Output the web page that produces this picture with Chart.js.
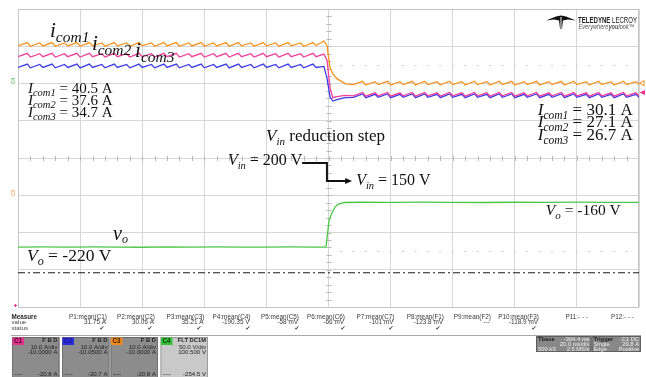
<!DOCTYPE html>
<html>
<head>
<meta charset="utf-8">
<script src="https://cdn.jsdelivr.net/npm/chart.js@4/dist/chart.umd.min.js"></script>
<style>
  html, body { margin: 0; padding: 0; background: #ffffff; }
  canvas { display: block; }
</style>
</head>
<body>
<canvas id="scope" width="646" height="377" style="width:646px;height:377px"></canvas>
<script>
// Acquisition: 20 ms/div, 10 divisions. Sample times in ms.
const timeMs = [
  0,3,4,7,8,11,12,15,16,19,20,23,24,27,28,31,32,35,36,39,
  40,43,44,47,48,51,52,55,56,59,60,63,64,67,68,71,72,75,76,79,
  80,83,84,87,88,91,92,95,96,98.5,
  99.5,100.5,101.4,102.7,104.3,105.5,
  108,111,112,115,116,119,120,123,124,127,128,131,132,135,136,139,140,143,144,147,
  148,151,152,155,156,159,160,163,164,167,168,171,172,175,176,179,180,183,184,187,
  188,191,192,195,196,199,200
];

// Converter currents (A)
const iCom1 = [
  40.1,41.0,40.0,40.9,40.1,41.0,40.0,40.9,40.1,41.0,
  40.0,41.0,40.1,40.9,40.0,41.0,40.1,40.9,40.0,41.0,
  40.1,40.9,40.0,41.0,40.1,41.0,40.0,40.9,40.1,41.0,
  40.0,40.9,40.1,41.0,40.0,41.0,40.1,40.9,40.0,41.0,
  40.1,40.9,40.0,41.0,40.1,40.9,40.0,41.0,40.2,41.4,
  40.3,34.2,32.6,31.3,30.5,29.9,
  29.7,30.6,29.6,30.5,29.7,30.6,29.6,30.5,29.7,30.6,
  29.6,30.6,29.7,30.5,29.6,30.6,29.7,30.5,29.6,30.6,
  29.7,30.5,29.6,30.6,29.7,30.6,29.6,30.5,29.7,30.6,
  29.6,30.5,29.7,30.6,29.6,30.6,29.7,30.5,29.6,30.6,
  29.7,30.5,29.6,30.6,29.7,30.5,29.7
];
const iCom2 = [
  37.2,38.1,37.1,38.0,37.2,38.1,37.1,38.0,37.2,38.1,
  37.1,38.1,37.2,38.0,37.1,38.1,37.2,38.0,37.1,38.1,
  37.2,38.0,37.1,38.1,37.2,38.1,37.1,38.0,37.2,38.1,
  37.1,38.0,37.2,38.1,37.1,38.1,37.2,38.0,37.1,38.1,
  37.2,38.0,37.1,38.1,37.2,38.0,37.1,38.1,37.2,37.9,
  36.3,28.8,26.2,26.5,26.7,26.8,
  26.7,27.6,26.6,27.5,26.7,27.6,26.6,27.5,26.7,27.6,
  26.6,27.6,26.7,27.5,26.6,27.6,26.7,27.5,26.6,27.6,
  26.7,27.5,26.6,27.6,26.7,27.6,26.6,27.5,26.7,27.6,
  26.6,27.5,26.7,27.6,26.6,27.6,26.7,27.5,26.6,27.6,
  26.7,27.5,26.6,27.6,26.7,27.5,26.7
];
const iCom3 = [
  34.3,35.2,34.2,35.1,34.3,35.2,34.2,35.1,34.3,35.2,
  34.2,35.2,34.3,35.1,34.2,35.2,34.3,35.1,34.2,35.2,
  34.3,35.1,34.2,35.2,34.3,35.2,34.2,35.1,34.3,35.2,
  34.2,35.1,34.3,35.2,34.2,35.2,34.3,35.1,34.2,35.2,
  34.3,35.1,34.2,35.2,34.3,35.1,34.2,35.2,34.3,34.6,
  31.5,26.4,25.3,25.7,26.0,26.2,
  26.3,27.2,26.2,27.1,26.3,27.2,26.2,27.1,26.3,27.2,
  26.2,27.2,26.3,27.1,26.2,27.2,26.3,27.1,26.2,27.2,
  26.3,27.1,26.2,27.2,26.3,27.2,26.2,27.1,26.3,27.2,
  26.2,27.1,26.3,27.2,26.2,27.2,26.3,27.1,26.2,27.2,
  26.3,27.1,26.2,27.2,26.3,27.1,26.3
];

// Output voltage (V)
const voTime = [0,8,16,24,32,40,48,56,64,72,80,88,96,
                99.2,100.2,101.1,102.1,103.1,105.3,
                110,120,130,140,150,160,170,180,190,200];
const vo = [-220.1,-219.8,-220.2,-219.9,-220.0,-220.3,-219.8,-220.1,-219.9,-220.2,-220.0,-219.8,-220.1,
            -220.0,-183.7,-174.3,-166.3,-162.3,-160.2,
            -159.9,-160.1,-159.8,-160.0,-160.2,-159.9,-160.1,-159.8,-160.0,-160.1];
const refLevelV = -254.5;

// Channel set-up (current channels share one axis: 10 A/div, offset -10 A; C4: 50 V/div, offset 100.5 V)
const currentAxis = { min: -30, max: 50, step: 10 };
const voltageAxis = { min: -300.5, max: 99.5 };

// Measurement readouts
const measureNames  = ['P1:mean(C1)','P2:mean(C2)','P3:mean(C3)','P4:mean(C4)','P5:mean(C5)','P6:mean(C6)',
                       'P7:mean(C7)','P8:mean(F1)','P9:mean(F2)','P10:mean(F3)','P11:- - -','P12:- - -'];
const measureValues = ['31.75 A','30.06 A','35.21 A','-190.35 V','-58 mV','-66 mV',
                       '-101 mV','-123.8 mV','---','-118.9 mV','',''];
const measureOk     = [1,1,1,1,1,1,1,1,0,1,0,0];

const chTags     = ['C1','C2','C3','C4'];
const chCoupling = ['F B D','F B D','F B D','FLT DC1M'];
const chScale    = ['10.0 A/div','10.0 A/div','10.0 A/div','50.0 V/div'];
const chOffset   = ['-10.0000 A','-10.0500 A','-10.0000 A','100.500 V'];
const chReading  = ['-20.8 A','-20.7 A','-20.8 A','-254.5 V'];

const tbaseRows   = [['Tbase','-304.4 ms'],['','20.0 ms/div'],['500 kS','2.5 MS/s']];
const triggerRows = [['Trigger','C1 DC'],['Single','29.8 A'],['Edge','Positive']];

const pts = (xs, ys) => xs.map((x, i) => ({ x: x, y: ys[i] }));

// Text placed on the graticule: anchor = [time ms, divisions from centre]
const plotNotes = [
  { at: [10.3, 3.25],  parts: [['i',21,1,0],['com1',15.5,1,5]] },
  { at: [23.8, 2.90],  parts: [['i',21,1,0],['com2',15.5,1,5]] },
  { at: [37.7, 2.71],  parts: [['i',21,1,0],['com3',15.5,1,5]] },
  { at: [3.2, 1.732],  parts: [['I',15,1,0],['com1',10.5,1,3],[' = 40.5 A',15,0,0]] },
  { at: [3.2, 1.423],  parts: [['I',15,1,0],['com2',10.5,1,3],[' = 37.6 A',15,0,0]] },
  { at: [3.2, 1.114],  parts: [['I',15,1,0],['com3',10.5,1,3],[' = 34.7 A',15,0,0]] },
  { at: [167.4, 1.154],parts: [['I',17,1,0],['com1',11.5,1,3.5],[' = 30.1 A',17,0,0]] },
  { at: [167.4, 0.819],parts: [['I',17,1,0],['com2',11.5,1,3.5],[' = 27.1 A',17,0,0]] },
  { at: [167.4, 0.483],parts: [['I',17,1,0],['com3',11.5,1,3.5],[' = 26.7 A',17,0,0]] },
  { at: [79.9, 0.456], parts: [['V',17,1,0],['in',11,1,4],[' reduction step',17,0,0]] },
  { at: [67.6, -0.188],parts: [['V',16,1,0],['in',10.5,1,4],[' = 200 V',16,0,0]] },
  { at: [108.9,-0.725],parts: [['V',16,1,0],['in',10.5,1,4],[' = 150 V',16,0,0]] },
  { at: [30.6, -2.20], parts: [['v',20,1,0],['o',12,1,3.5]] },
  { at: [2.9, -2.765], parts: [['V',17.5,1,0],['o',12,1,4],[' = -220 V',17.5,0,0]] },
  { at: [170.0,-1.53], parts: [['V',15.5,1,0],['o',11,1,4],[' = -160 V',15.5,0,0]] }
];
const vinArrow = [[91.5,-0.134],[99.5,-0.134],[99.5,-0.617],[107.6,-0.617]];

function drawRich(ctx, x, y, parts) {
  let cx = x;
  for (const [s, size, italic, dy] of parts) {
    ctx.font = (italic ? 'italic ' : '') + size + 'px "Liberation Serif", "Times New Roman", serif';
    ctx.fillText(s, cx, y + dy);
    cx += ctx.measureText(s).width;
  }
}

function fitParts(ctx, x, y, width, parts) {
  let total = 0;
  for (const [s, font] of parts) { ctx.font = font; total += ctx.measureText(s).width; }
  ctx.save();
  ctx.translate(x, y);
  ctx.scale(width / total, 1);
  let cx = 0;
  for (const [s, font] of parts) { ctx.font = font; ctx.fillText(s, cx, 0); cx += ctx.measureText(s).width; }
  ctx.restore();
}

const scopeDecor = {
  id: 'scopeDecor',
  beforeDatasetsDraw(chart) {
    const { ctx, chartArea: a, scales } = chart;
    const cx = scales.x.getPixelForValue(100);
    const cy = scales.yI.getPixelForValue(10);
    const dx = (a.right - a.left) / 50;
    const dy = (a.bottom - a.top) / 40;
    ctx.save();
    ctx.strokeStyle = '#b9b9b9';
    ctx.lineWidth = 1;
    ctx.beginPath();
    for (let k = 1; k < 50; k++) {
      const x = Math.round(a.left + k * dx) + 0.5;
      ctx.moveTo(x, cy - 2); ctx.lineTo(x, cy + 3);
    }
    for (let k = 1; k < 40; k++) {
      const y = Math.round(a.top + k * dy) + 0.5;
      ctx.moveTo(cx - 2, y); ctx.lineTo(cx + 3, y);
    }
    ctx.stroke();
    // faint dotted rows at +/-2.5 div on the right half
    ctx.strokeStyle = '#cfcfcf';
    ctx.beginPath();
    for (const d of [2.5, -2.5]) {
      const y = Math.round(scales.yI.getPixelForValue(d * 10 + 10)) + 0.5;
      for (let k = 26; k < 50; k++) {
        const x = a.left + k * dx;
        ctx.moveTo(x - 1, y); ctx.lineTo(x + 1, y);
      }
    }
    ctx.stroke();
    ctx.strokeStyle = '#c4c4c4';
    ctx.strokeRect(a.left + 0.5, a.top + 0.5, a.right - a.left - 1, a.bottom - a.top);
    ctx.restore();
  },
  afterDraw(chart) {
    const { ctx, chartArea: a, scales } = chart;
    const X = ms => scales.x.getPixelForValue(ms);
    const Y = div => scales.yI.getPixelForValue(div * 10 + 10);
    ctx.save();

    // annotations
    ctx.fillStyle = '#111';
    ctx.textBaseline = 'alphabetic';
    ctx.textAlign = 'left';
    for (const n of plotNotes) drawRich(ctx, X(n.at[0]), Y(n.at[1]), n.parts);

    // Vin step arrow
    ctx.strokeStyle = '#111';
    ctx.lineWidth = 2;
    ctx.beginPath();
    vinArrow.forEach(([ms, d], i) => {
      const px = X(ms), py = Y(d);
      const ex = i === vinArrow.length - 1 ? px - 6 : px;
      if (i === 0) ctx.moveTo(px, py); else ctx.lineTo(ex, py);
    });
    ctx.stroke();
    const [tms, td] = vinArrow[vinArrow.length - 1];
    const tx = X(tms), ty = Y(td);
    ctx.beginPath();
    ctx.moveTo(tx, ty); ctx.lineTo(tx - 7, ty - 3); ctx.lineTo(tx - 7, ty + 3); ctx.closePath();
    ctx.fill();

    // brand mark
    ctx.fillStyle = '#111';
    ctx.beginPath();
    ctx.moveTo(546, 20.5); ctx.lineTo(556, 16.5); ctx.lineTo(561, 15.5); ctx.lineTo(566, 16.5);
    ctx.lineTo(576, 20.5); ctx.lineTo(568, 19.5); ctx.lineTo(563, 20.5); ctx.lineTo(562, 28.5);
    ctx.lineTo(560, 28.5); ctx.lineTo(559, 20.5); ctx.lineTo(554, 19.5); ctx.closePath();
    ctx.fill();
    ctx.fillStyle = '#fff';
    ctx.fillRect(560.5, 17, 1, 11);
    ctx.fillStyle = '#222';
    fitParts(ctx, 578, 23.3, 59, [['TELEDYNE', 'bold 9px "Liberation Sans", Arial, sans-serif'],
                                  [' LECROY', '9px "Liberation Sans", Arial, sans-serif']]);
    ctx.fillStyle = '#555';
    fitParts(ctx, 578.5, 29, 56, [['Everywhere', 'italic 6.5px "Liberation Sans", Arial, sans-serif'],
                                  ['you', 'italic bold 6.5px "Liberation Sans", Arial, sans-serif'],
                                  ['look\u2122', 'italic 6.5px "Liberation Sans", Arial, sans-serif']]);

    // channel ground markers (left) and level markers (right)
    ctx.font = '5px "Liberation Sans", Arial, sans-serif';
    ctx.textAlign = 'center';
    ctx.textBaseline = 'middle';
    const gV = scales.yV.getPixelForValue(0);
    const gI = scales.yI.getPixelForValue(0);
    ctx.save(); ctx.translate(13.5, gV - 2); ctx.rotate(-Math.PI / 2);
    ctx.fillStyle = '#3cb43c'; ctx.fillText('C4', 0, 0); ctx.restore();
    ctx.save(); ctx.translate(13.5, gI - 2); ctx.rotate(-Math.PI / 2);
    ctx.fillStyle = '#f08a1e'; ctx.fillText('C3', 0, 0); ctx.restore();

    const yo = scales.yI.getPixelForValue(30.1);
    ctx.strokeStyle = '#f08a1e'; ctx.lineWidth = 1;
    ctx.beginPath(); ctx.moveTo(639.5, yo); ctx.lineTo(644, yo - 2.5); ctx.lineTo(644, yo + 2.5); ctx.closePath(); ctx.stroke();
    const yp = scales.yI.getPixelForValue(27.6);
    ctx.fillStyle = '#e8308f';
    ctx.beginPath(); ctx.moveTo(639.5, yp); ctx.lineTo(645, yp - 2.5); ctx.lineTo(645, yp + 2.5); ctx.closePath(); ctx.fill();
    ctx.fillRect(14, a.bottom - 2, 3, 1); ctx.fillRect(15, a.bottom - 3, 1, 3);

    drawPanel(ctx);
    ctx.restore();
  }
};

function drawPanel(ctx) {
  const F = (size, bold) => (bold ? 'bold ' : '') + size + 'px "Liberation Sans", Arial, sans-serif';
  const colRight = [107, 155, 204.5, 250.5, 299, 345, 394.5, 444, 491, 539, 588, 634];
  const checkX   = [102, 150, 199, 248, 297, 343, 391, 438, 0, 534];
  const rowY = [317.3, 322.7, 328.0];
  ctx.textBaseline = 'middle';

  ctx.textAlign = 'left';
  ctx.fillStyle = '#2a2a2a';
  ctx.font = F(6.3, true);
  ctx.fillText('Measure', 11.5, rowY[0]);
  ctx.font = F(6.2);
  ctx.fillStyle = '#4a4a4a';
  ctx.fillText('value', 11.5, rowY[1]);
  ctx.fillText('status', 11.5, rowY[2]);

  measureNames.forEach((name, i) => {
    ctx.textAlign = 'right';
    ctx.fillStyle = '#3a3a3a';
    ctx.font = F(6.4);
    ctx.fillText(name, colRight[i], rowY[0]);
    ctx.fillText(measureValues[i], colRight[i] - 1, rowY[1]);
    if (measureOk[i]) {
      ctx.textAlign = 'center';
      ctx.font = '6px "DejaVu Sans", sans-serif';
      ctx.fillText('\u2714', checkX[i], rowY[2] + 0.5);
    }
  });

  ctx.strokeStyle = '#a9a9a9';
  ctx.lineWidth = 1;
  ctx.beginPath(); ctx.moveTo(11, 335.5); ctx.lineTo(641, 335.5); ctx.stroke();

  // channel descriptor boxes
  const boxX = [12, 62, 110.5, 160.5];
  const tagBg = ['#e8308f', '#2b2bdc', '#f08a1e', '#36c236'];
  const tagFg = ['#3a0a22', '#1a1a8a', '#3a1e00', '#0a3a0a'];
  chTags.forEach((tag, i) => {
    const x = boxX[i], w = 47.5, y = 337, h = 40;
    ctx.fillStyle = i === 3 ? '#c9c9c9' : '#8c8c8c';
    ctx.fillRect(x, y, w, h);
    ctx.strokeStyle = i === 3 ? '#9a9a9a' : '#6f6f6f';
    ctx.strokeRect(x + 0.5, y + 0.5, w - 1, h);
    ctx.fillStyle = tagBg[i];
    ctx.fillRect(x + 0.5, y + 0.5, 11.5, 7.5);
    ctx.fillStyle = tagFg[i];
    ctx.font = F(6.3, true);
    ctx.textAlign = 'left';
    ctx.fillText(tag, x + 2, y + 4.3);
    ctx.fillStyle = '#1e1e1e';
    ctx.textAlign = 'right';
    ctx.font = F(5.8, true);
    ctx.fillText(chCoupling[i], x + w - 2, y + 3.8);
    ctx.font = F(6.1);
    ctx.fillText(chScale[i], x + w - 2, y + 10);
    ctx.fillText(chOffset[i], x + w - 2, y + 15.7);
    ctx.fillText(chReading[i], x + w - 2, y + 37);
    ctx.textAlign = 'left';
    ctx.fillText('----', x + 2.5, y + 37);
  });

  // timebase and trigger boxes
  const boxes = [[536, 55.5, tbaseRows], [591.5, 49.5, triggerRows]];
  for (const [bx, bw, rows] of boxes) {
    ctx.fillStyle = '#888888';
    ctx.fillRect(bx, 336, bw, 15.5);
    ctx.strokeStyle = '#5e5e5e';
    ctx.strokeRect(bx + 0.5, 336.5, bw - 1, 15);
    rows.forEach(([l, r], k) => {
      const y = 339.6 + k * 4.9;
      ctx.textAlign = 'left';
      ctx.fillStyle = k === 0 ? '#1a1a1a' : '#efefef';
      ctx.font = F(5.8, k === 0);
      ctx.fillText(l, bx + 2, y);
      ctx.textAlign = 'right';
      ctx.fillStyle = '#efefef';
      ctx.font = F(5.8);
      ctx.fillText(r, bx + bw - 2, y);
    });
  }
}

const gridStyle = { color: '#d6d6d6', lineWidth: 1, drawTicks: false };

new Chart(document.getElementById('scope'), {
  type: 'line',
  data: {
    datasets: [
      { label: 'icom1', data: pts(timeMs, iCom1), yAxisID: 'yI', borderColor: '#f7931e', borderWidth: 1.3 },
      { label: 'icom2', data: pts(timeMs, iCom2), yAxisID: 'yI', borderColor: '#f0409c', borderWidth: 1.3 },
      { label: 'icom3', data: pts(timeMs, iCom3), yAxisID: 'yI', borderColor: '#3c3ce6', borderWidth: 1.3 },
      { label: 'vo', data: pts(voTime, vo), yAxisID: 'yV', borderColor: '#4cc646', borderWidth: 1.3 },
      { label: 'ref', data: pts([0, 200], [refLevelV, refLevelV]), yAxisID: 'yV', borderColor: '#1a1a1a',
        borderWidth: 1.2, borderDash: [7, 3, 2, 3] }
    ]
  },
  options: {
    responsive: false,
    animation: false,
    devicePixelRatio: 1,
    layout: { padding: { left: 18, top: 9, right: 7, bottom: 70 } },
    elements: { point: { radius: 0 }, line: { tension: 0, fill: false } },
    plugins: { legend: { display: false }, tooltip: { enabled: false } },
    scales: {
      x: { type: 'linear', min: 0, max: 200, ticks: { stepSize: 20, display: false },
           grid: gridStyle, border: { display: false } },
      yI: { type: 'linear', position: 'left', min: currentAxis.min, max: currentAxis.max,
            ticks: { stepSize: currentAxis.step, display: false }, grid: gridStyle, border: { display: false } },
      yV: { type: 'linear', display: false, min: voltageAxis.min, max: voltageAxis.max }
    }
  },
  plugins: [scopeDecor]
});
</script>
</body>
</html>
